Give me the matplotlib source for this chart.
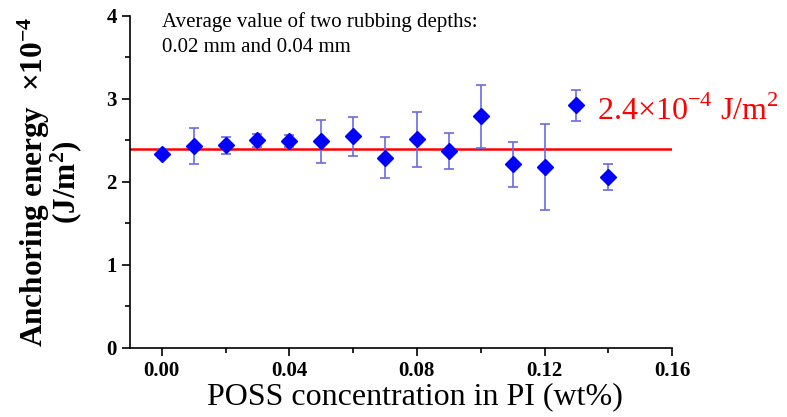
import matplotlib.pyplot as plt
from matplotlib.ticker import MultipleLocator

plt.rcParams['font.family'] = ['Liberation Serif', 'DejaVu Serif']
plt.rcParams['mathtext.fontset'] = 'custom'
plt.rcParams['mathtext.rm'] = 'Liberation Serif'
plt.rcParams['mathtext.bf'] = 'Liberation Serif:bold'

conc = [0.00, 0.01, 0.02, 0.03, 0.04, 0.05, 0.06, 0.07, 0.08, 0.09, 0.10, 0.11, 0.12, 0.13, 0.14]
energy = [2.34, 2.43, 2.44, 2.50, 2.49, 2.49, 2.55, 2.29, 2.51, 2.37, 2.79, 2.21, 2.18, 2.92, 2.06]
err = [0.05, 0.22, 0.10, 0.08, 0.07, 0.26, 0.235, 0.25, 0.33, 0.22, 0.38, 0.27, 0.52, 0.19, 0.16]
avg = 2.4

fig = plt.figure(figsize=(7.87, 4.17), dpi=100)
ax = fig.add_axes([0.165, 0.166, 0.689, 0.796])

ax.axhline(avg, color="red", lw=1.8, zorder=1)
ax.errorbar(conc, energy, yerr=err, fmt="none", ecolor="#6a6ae8", elinewidth=1.2,
            capsize=3.3, capthick=1.2, zorder=2)
ax.plot(conc, energy, "D", color="blue", markersize=8.5, zorder=3)

ax.set_xlim(-0.01, 0.16)
ax.set_ylim(0, 4)
ax.xaxis.set_minor_locator(MultipleLocator(0.02))
ax.yaxis.set_minor_locator(MultipleLocator(0.5))
ax.set_xticks([0.00, 0.04, 0.08, 0.12, 0.16])
ax.set_xticklabels(["0.00", "0.04", "0.08", "0.12", "0.16"])
ax.set_yticks([0, 1, 2, 3, 4])
ax.set_yticklabels(["0", "1", "2", "3", "4"])
for lab in ax.get_xticklabels() + ax.get_yticklabels():
    lab.set_fontweight("bold")
    lab.set_fontsize(15)
ax.tick_params(which="major", length=6, width=1.2)
ax.tick_params(which="minor", length=3.5, width=1.2)
ax.spines["top"].set_visible(False)
ax.spines["right"].set_visible(False)
ax.spines["left"].set_linewidth(1.2)
ax.spines["bottom"].set_linewidth(1.2)

ax.set_xlabel("POSS concentration in PI (wt%)", fontsize=23)
ax.xaxis.set_label_coords(0.525, -0.105)
ax.set_ylabel("Anchoring energy  $\\mathbf{\\times 10^{-4}}$\n(J/m$\\mathbf{^2}$)",
              fontsize=22.5, fontweight="bold", linespacing=0.85)
ax.yaxis.set_label_coords(-0.085, 0.5)

ax.text(0.0, 3.868, "Average value of two rubbing depths:", fontsize=15,
        va="baseline", ha="left")
ax.text(0.0, 3.566, "0.02 mm and 0.04 mm", fontsize=15, va="baseline", ha="left")
ax.text(0.1363, 2.743, "2.4×10$^{-4}$ J/m$^2$", color="red", fontsize=23,
        va="baseline", ha="left", clip_on=False)

fig.savefig("out.png", dpi=100)
